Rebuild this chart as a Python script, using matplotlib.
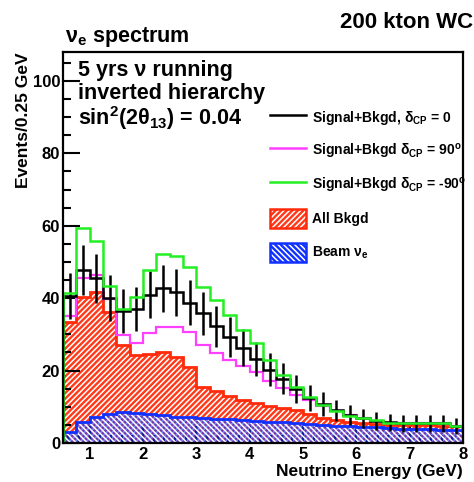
import numpy as np
import matplotlib
matplotlib.use("Agg")
import matplotlib.pyplot as plt
from matplotlib.lines import Line2D
from matplotlib.patches import Patch
from matplotlib.legend_handler import HandlerTuple
from matplotlib.ticker import MultipleLocator

plt.rcParams['font.family'] = ['Liberation Sans', 'DejaVu Sans']
plt.rcParams['font.weight'] = 'bold'
plt.rcParams['mathtext.default'] = 'regular'
plt.rcParams['hatch.linewidth'] = 1.1

# ---- data (events per 0.25 GeV bin, 0.5 - 8 GeV) ----
bin_edges = np.arange(0.5, 8.0001, 0.25)

all_bkgd = [33.5, 40.4, 41.7, 36.2, 27.0, 24.3, 24.6, 25.2, 23.8, 21.0,
            15.5, 14.3, 12.9, 12.0, 11.0, 10.3, 9.7, 9.0, 8.0, 7.0,
            6.3, 5.8, 5.5, 5.2, 5.1, 5.0, 5.0, 4.9, 4.8, 4.6]
beam_nue = [3.1, 5.9, 7.3, 8.0, 8.5, 8.4, 8.0, 7.6, 7.3, 7.1,
            6.9, 6.7, 6.5, 6.3, 6.1, 5.9, 5.7, 5.4, 5.2, 5.0,
            4.8, 4.6, 4.4, 4.3, 4.1, 4.0, 3.9, 3.8, 3.7, 3.6]
sig_dcp0 = [40.5, 47.8, 45.5, 40.0, 36.5, 37.0, 41.0, 42.7, 41.6, 38.8,
            35.8, 32.2, 29.3, 26.3, 23.2, 20.3, 17.8, 14.8, 12.5, 10.7,
            9.0, 7.8, 6.8, 6.2, 5.7, 5.4, 5.4, 5.4, 5.4, 4.8]
sig_dcp90 = [35.0, 45.5, 46.5, 39.9, 29.8, 27.6, 30.3, 32.1, 32.1, 30.6,
             27.2, 24.8, 22.8, 21.2, 19.7, 17.0, 15.2, 13.3, 11.8, 10.2,
             8.8, 7.6, 6.8, 6.2, 5.6, 5.4, 5.4, 5.4, 5.4, 4.8]
sig_dcpm90 = [41.5, 59.5, 55.7, 43.3, 37.0, 40.4, 47.8, 52.1, 51.6, 48.7,
              43.1, 39.4, 35.3, 31.2, 27.5, 22.9, 18.8, 15.5, 12.8, 10.5,
              8.8, 7.5, 6.8, 6.4, 5.6, 5.4, 5.4, 5.4, 5.4, 4.8]

labels = ['Signal+Bkgd, $\\delta_{CP}$ = 0',
          'Signal+Bkgd $\\delta_{CP}$ = 90$^{o}$',
          'Signal+Bkgd $\\delta_{CP}$ = -90$^{o}$',
          'All Bkgd',
          'Beam $\\nu_{e}$']

RED = '#ff2a0a'
BLUE = '#1030ff'
GREEN = '#22f022'
MAGENTA = '#ff40ff'
RED_FILL = '#ff3a1a'
BLUE_FILL = (0.10, 0.22, 1.0, 0.6)

fig = plt.figure(figsize=(4.74, 4.82), dpi=100)
ax = fig.add_axes([63/474, 1-443/482, 400/474, 391/482])

ax.stairs(all_bkgd, bin_edges, fill=True, facecolor=RED_FILL, edgecolor='white',
          hatch='//////', linewidth=0, zorder=1)
ax.stairs(all_bkgd, bin_edges, color=RED, linewidth=2, baseline=0, zorder=2)
ax.stairs(beam_nue, bin_edges, fill=True, facecolor=BLUE_FILL,
          edgecolor='white', hatch='\\\\\\\\\\\\', linewidth=0, zorder=3)
ax.stairs(beam_nue, bin_edges, color=BLUE, linewidth=2, baseline=0, zorder=4)

ax.stairs(sig_dcp90, bin_edges, color=MAGENTA, linewidth=1.6, zorder=5)
ax.stairs(sig_dcp0, bin_edges, color='black', linewidth=1.8, zorder=6)
centers = 0.5 * (bin_edges[:-1] + bin_edges[1:])
ax.errorbar(centers, sig_dcp0, yerr=np.sqrt(sig_dcp0), fmt='none',
            ecolor='black', elinewidth=1.8, capsize=0, zorder=6)
ax.stairs(sig_dcpm90, bin_edges, color=GREEN, linewidth=1.8, zorder=7)

ax.set_xlim(0.5, 8)
ax.set_ylim(0, 108)
ax.xaxis.set_major_locator(MultipleLocator(1))
ax.xaxis.set_minor_locator(MultipleLocator(0.2))
ax.yaxis.set_major_locator(MultipleLocator(20))
ax.yaxis.set_minor_locator(MultipleLocator(5))
ax.tick_params(which='both', direction='in', top=False, right=False, width=1.5)
ax.tick_params(which='major', length=12)
ax.tick_params(which='minor', length=6)
ax.tick_params(axis='y', labelsize=12, pad=2)
ax.tick_params(axis='x', labelsize=12, pad=3)
for lab in ax.get_xticklabels() + ax.get_yticklabels():
    lab.set_fontweight('bold')
for sp in ax.spines.values():
    sp.set_linewidth(1.6)
    sp.set_zorder(10)

ax.set_ylabel('Events/0.25 GeV', loc='top', fontsize=12.5, fontweight='bold', labelpad=1)
ax.set_xlabel('Neutrino Energy (GeV)', loc='right', fontsize=12.5, fontweight='bold', labelpad=1)

ax.text(0.0375, 0.938, '5 yrs \u03bd running', transform=ax.transAxes,
        fontsize=15.5, fontweight='bold', va='baseline')
ax.text(0.0375, 0.879, 'inverted hierarchy', transform=ax.transAxes,
        fontsize=15.5, fontweight='bold', va='baseline')
ax.text(0.0375, 0.814, 'sin$^{2}$(2$\\theta_{13}$) = 0.04', transform=ax.transAxes,
        fontsize=15.5, fontweight='bold', va='baseline')

fig.text(65/474, 1-42/482, '$\\nu_{e}$ spectrum', fontsize=15.5, fontweight='bold', va='baseline')
fig.text(473/474, 1-28/482, '200 kton WC', fontsize=16, fontweight='bold',
         va='baseline', ha='right')

handles = [Line2D([], [], color='black', lw=1.8),
           Line2D([], [], color=MAGENTA, lw=1.8),
           Line2D([], [], color=GREEN, lw=1.8),
           (Patch(facecolor=RED_FILL, edgecolor='white', hatch='//////', lw=0),
            Patch(facecolor='none', edgecolor=RED, lw=1.8)),
           (Patch(facecolor=BLUE, edgecolor='white', hatch='\\\\\\\\\\\\', lw=0),
            Patch(facecolor='none', edgecolor=BLUE, lw=1.8))]
ax.legend(handles, labels, loc='upper left', bbox_to_anchor=(0.5175, 0.857),
          frameon=False, borderpad=0, borderaxespad=0,
          handlelength=2.6, handleheight=1.73, labelspacing=1.04,
          handletextpad=0.4, prop={'weight': 'bold', 'size': 10},
          handler_map={tuple: HandlerTuple(ndivide=1)})

fig.savefig('out.png', dpi=100)
